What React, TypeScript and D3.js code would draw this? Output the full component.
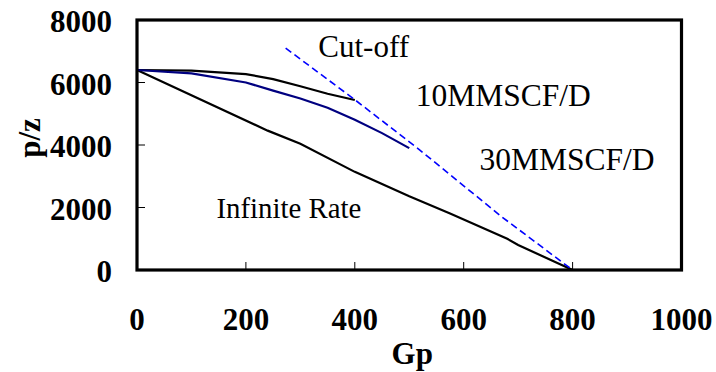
import React from "react";
import * as d3 from "d3";

const xTicks = [0, 200, 400, 600, 800, 1000];
const yTicks = [0, 2000, 4000, 6000, 8000];

const gp10 = [0, 100, 200, 250, 300, 350, 400];
const pz10 = [6400, 6380, 6270, 6110, 5880, 5640, 5440];

const gp30 = [0, 100, 200, 250, 300, 350, 400, 450, 500];
const pz30 = [6400, 6290, 6000, 5740, 5490, 5190, 4810, 4380, 3900];

const gpInf = [0, 240, 300, 400, 500, 575, 680, 700, 800];
const pzInf = [6400, 4460, 4040, 3140, 2360, 1810, 1000, 800, 0];

const gpCut = [273, 400, 520, 670, 800];
const pzCut = [7100, 5450, 3830, 1700, 0];

const labels = [
  { text: "Cut-off", gp: 333, pz: 6830, size: 31 },
  { text: "10MMSCF/D", gp: 512, pz: 5260, size: 31.5 },
  { text: "30MMSCF/D", gp: 629, pz: 3210, size: 31.5 },
  { text: "Infinite Rate", gp: 146, pz: 1680, size: 28.8 },
];

const W = 716;
const H = 372;
const L = 137, R = 681.5, T = 20, B = 270;

export default function App() {
  const x = d3.scaleLinear().domain([0, 1000]).range([L, R]);
  const y = d3.scaleLinear().domain([0, 8000]).range([B, T]);
  const line = d3
    .line<[number, number]>()
    .x((d) => x(d[0]))
    .y((d) => y(d[1]));
  const mk = (a: number[], b: number[]) => a.map((v, i) => [v, b[i]] as [number, number]);
  const font = "'Liberation Serif', 'Times New Roman', serif";

  return (
    <svg
      width={W}
      height={H}
      style={{ position: "absolute", left: 0, top: 0, background: "#fff" }}
    >
      <rect x={0} y={0} width={W} height={H} fill="#fff" />
      {xTicks.slice(1, -1).map((t) => (
        <line key={"xt" + t} x1={x(t)} x2={x(t)} y1={B} y2={B - 8} stroke="#000" strokeWidth={1} />
      ))}
      {yTicks.slice(1, -1).map((t) => (
        <line key={"yt" + t} x1={L} x2={L + 8} y1={y(t)} y2={y(t)} stroke="#000" strokeWidth={1} />
      ))}
      <path d={line(mk(gpInf, pzInf)) || ""} fill="none" stroke="#000" strokeWidth={2.2} />
      <path d={line(mk(gp10, pz10)) || ""} fill="none" stroke="#000" strokeWidth={2.2} />
      <path d={line(mk(gp30, pz30)) || ""} fill="none" stroke="#000080" strokeWidth={2.2} />
      <path
        d={line(mk(gpCut, pzCut)) || ""}
        fill="none"
        stroke="#0000FF"
        strokeWidth={1.6}
        strokeDasharray="7,4"
      />
      <rect x={L} y={T} width={R - L} height={B - T} fill="none" stroke="#000" strokeWidth={3.2} />
      {xTicks.map((t) => (
        <text
          key={"xl" + t}
          x={x(t)}
          y={330}
          textAnchor="middle"
          fontFamily={font}
          fontWeight="bold"
          fontSize={31}
        >
          {t}
        </text>
      ))}
      {yTicks.map((t) => (
        <text
          key={"yl" + t}
          x={112}
          y={y(t) + 12}
          textAnchor="end"
          fontFamily={font}
          fontWeight="bold"
          fontSize={31}
        >
          {t}
        </text>
      ))}
      <text
        x={(L + R) / 2 + 3}
        y={364}
        textAnchor="middle"
        fontFamily={font}
        fontWeight="bold"
        fontSize={31}
      >
        Gp
      </text>
      <text
        transform={`translate(40,138) rotate(-90)`}
        textAnchor="middle"
        fontFamily={font}
        fontWeight="bold"
        fontSize={31}
      >
        p/z
      </text>
      {labels.map((l) => (
        <text
          key={l.text}
          x={x(l.gp)}
          y={y(l.pz)}
          fontFamily={font}
          fontSize={l.size}
        >
          {l.text}
        </text>
      ))}
    </svg>
  );
}
